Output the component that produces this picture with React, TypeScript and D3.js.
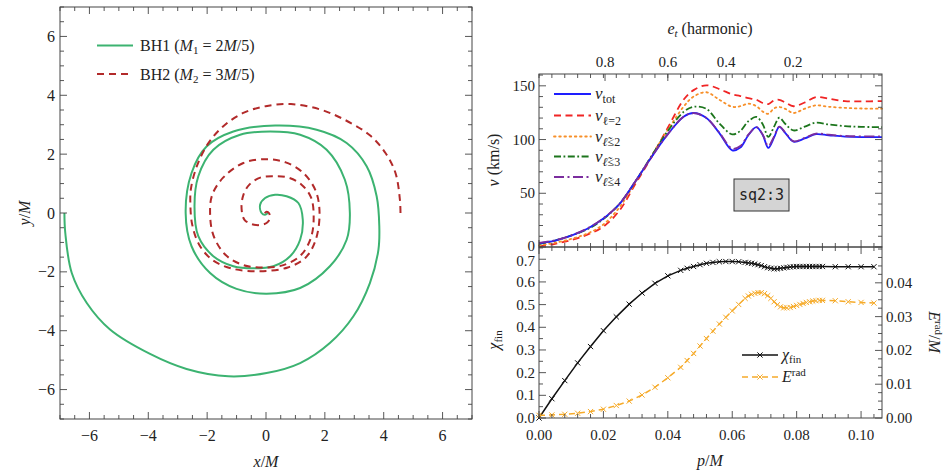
import React from "react";
import * as d3 from "d3";

// BH trajectories (units of M)
const bh1X = [-6.85, -6.82, -6.6, -6.09, -5.3, -3.94, -2.7, -1.28, 0.02, 1.16, 2.17, 2.97, 3.53, 3.82, 3.85, 3.76, 3.42, 2.74, 1.72, 0.31, -1.11, -2.02, -2.53, -2.73, -2.53, -1.9, -1.0, 0.02, 1.16, 2.17, 2.74, 2.85, 2.68, 2.06, 1.16, 0.14, -0.88, -1.79, -2.3, -2.43, -2.3, -1.79, -1.11, -0.43, 0.25, 0.82, 1.16, 1.25, 1.1, 0.7, 0.31, -0.03, -0.2, -0.15, -0.03, 0.08];
const bh1Y = [0, -0.68, -2.04, -3.06, -3.96, -4.79, -5.3, -5.55, -5.44, -5.1, -4.42, -3.51, -2.38, -1.25, -0.45, 0.57, 1.59, 2.38, 2.83, 2.97, 2.77, 2.26, 1.36, 0, -1.13, -2.04, -2.58, -2.74, -2.55, -1.81, -0.91, 0, 1.13, 2.15, 2.66, 2.77, 2.66, 2.15, 1.25, 0.23, -0.79, -1.47, -1.81, -1.88, -1.81, -1.47, -0.91, -0.23, 0.34, 0.57, 0.62, 0.51, 0.28, 0, -0.06, 0.02];
const bh2X = [4.57, 4.55, 4.4, 4.06, 3.53, 2.63, 1.8, 0.85, -0.01, -0.77, -1.45, -1.98, -2.35, -2.55, -2.57, -2.51, -2.28, -1.83, -1.15, -0.21, 0.74, 1.35, 1.69, 1.82, 1.69, 1.27, 0.67, -0.01, -0.77, -1.45, -1.83, -1.9, -1.79, -1.37, -0.77, -0.09, 0.59, 1.19, 1.53, 1.62, 1.53, 1.19, 0.74, 0.29, -0.17, -0.55, -0.77, -0.83, -0.73, -0.47, -0.21, 0.02, 0.13, 0.1, 0.02, -0.05];
const bh2Y = [0, 0.45, 1.36, 2.04, 2.64, 3.19, 3.53, 3.7, 3.63, 3.4, 2.95, 2.34, 1.59, 0.83, 0.3, -0.38, -1.06, -1.59, -1.89, -1.98, -1.85, -1.51, -0.91, 0, 0.75, 1.36, 1.72, 1.83, 1.7, 1.21, 0.61, 0, -0.75, -1.43, -1.77, -1.85, -1.77, -1.43, -0.83, -0.15, 0.53, 0.98, 1.21, 1.25, 1.21, 0.98, 0.61, 0.15, -0.23, -0.38, -0.41, -0.34, -0.19, 0, 0.04, -0.01];

// kick velocity vs p/M (km/s)
const pV = [0, 0.005, 0.01, 0.015, 0.02, 0.025, 0.03, 0.035, 0.04, 0.045, 0.048, 0.052, 0.056, 0.06, 0.0625, 0.065, 0.0675, 0.0695, 0.0712, 0.073, 0.0746, 0.0765, 0.079, 0.0825, 0.086, 0.09, 0.095, 0.1, 0.1065];
const vTot = [3.5, 6, 10.5, 17, 26.5, 40, 61.5, 84, 105, 121.5, 124.7, 120, 106, 90, 92.5, 104, 111.5, 104, 92.3, 102, 111.7, 106, 98, 101, 105, 104, 102.8, 102.3, 102.3];
const vL2 = [0.5, 3, 6.5, 11.5, 19, 34, 59, 84, 111, 137.5, 146, 150.5, 147, 142, 140.5, 138.5, 137, 134, 133, 136.5, 137, 134.5, 131, 134.5, 139.5, 138, 135.7, 135.5, 135.8];
const vLt2 = [1.5, 4, 7.5, 12.5, 21, 37, 60.5, 85, 109, 131, 140, 144, 137, 130.5, 131, 133.4, 131, 126, 124, 129, 130.3, 128.5, 124.7, 128.7, 131.8, 130.5, 129.5, 128.9, 128.7];
const vLt3 = [3, 6, 10.7, 16.5, 26, 40.2, 61.3, 85, 108, 126, 130.5, 128.5, 115, 104.8, 108, 117, 121, 114, 102.5, 112, 120.3, 114.5, 108.5, 112, 115.7, 114, 112.5, 111.8, 111.6];
const vLt4 = [3.8, 6.3, 10.8, 17.3, 26.8, 40.2, 61.5, 84, 105, 121.5, 124.5, 120, 106.5, 91.5, 94, 104.5, 111.5, 104.5, 94, 103, 112, 106.5, 98.5, 101.5, 105.5, 104.5, 103.3, 103, 103];

// final spin and radiated energy vs p/M
const pFit = [0, 0.004, 0.008, 0.012, 0.016, 0.02, 0.024, 0.028, 0.032, 0.036, 0.04, 0.044, 0.046, 0.048, 0.05, 0.052, 0.054, 0.056, 0.058, 0.06, 0.062, 0.064, 0.065, 0.066, 0.067, 0.068, 0.069, 0.07, 0.071, 0.072, 0.073, 0.074, 0.075, 0.076, 0.077, 0.078, 0.079, 0.08, 0.081, 0.082, 0.083, 0.084, 0.085, 0.086, 0.087, 0.088, 0.092, 0.096, 0.1, 0.104];
const chiFin = [0, 0.085, 0.165, 0.243, 0.315, 0.385, 0.446, 0.502, 0.551, 0.594, 0.627, 0.651, 0.66, 0.668, 0.676, 0.682, 0.686, 0.689, 0.69, 0.69, 0.689, 0.686, 0.684, 0.682, 0.679, 0.676, 0.672, 0.667, 0.663, 0.66, 0.658, 0.658, 0.66, 0.662, 0.664, 0.666, 0.667, 0.668, 0.668, 0.668, 0.668, 0.668, 0.668, 0.668, 0.668, 0.668, 0.667, 0.667, 0.667, 0.667];
const eRad = [0.0008, 0.0009, 0.0011, 0.0014, 0.0019, 0.0026, 0.0037, 0.005, 0.0068, 0.0091, 0.0119, 0.015, 0.017, 0.0191, 0.0213, 0.0235, 0.0257, 0.0278, 0.0298, 0.0317, 0.0336, 0.0354, 0.0361, 0.0366, 0.0369, 0.0371, 0.0371, 0.0368, 0.0362, 0.0354, 0.0344, 0.0335, 0.0329, 0.0326, 0.0326, 0.0327, 0.033, 0.0333, 0.0336, 0.0339, 0.0342, 0.0344, 0.0346, 0.0347, 0.0348, 0.0348, 0.0347, 0.0344, 0.0342, 0.034];

// top axis: eccentricity ticks and where they sit in p/M
const etLabels = ["0.8", "0.6", "0.4", "0.2"];
const etTickP = [0.0205, 0.04, 0.0581, 0.0789];
const eTicks = [0, 0.01, 0.02, 0.03, 0.04];

const serif = "'Liberation Serif', 'Times New Roman', Tinos, 'DejaVu Serif', 'Noto Serif', Times, serif";
const axisCol = "#444";

type TickProps = { vals: number[]; pos: (v: number) => number; at: number; len: number; dir: "up" | "down" | "left" | "right" };
const Ticks = ({ vals, pos, at, len, dir }: TickProps) => (
  <g stroke={axisCol} strokeWidth={0.9}>
    {vals.map((v, i) => {
      const c = pos(v);
      if (dir === "up") return <line key={i} x1={c} x2={c} y1={at} y2={at - len} />;
      if (dir === "down") return <line key={i} x1={c} x2={c} y1={at} y2={at + len} />;
      if (dir === "right") return <line key={i} y1={c} y2={c} x1={at} x2={at + len} />;
      return <line key={i} y1={c} y2={c} x1={at} x2={at - len} />;
    })}
  </g>
);

const minorOf = (all: number[], major: number[]) => all.filter((v) => !major.some((m) => Math.abs(m - v) < 1e-9));

const XMark = ({ x, y, color }: { x: number; y: number; color: string }) => (
  <path d={`M${x - 2.6},${y - 2.6}L${x + 2.6},${y + 2.6}M${x - 2.6},${y + 2.6}L${x + 2.6},${y - 2.6}`} stroke={color} strokeWidth={1} fill="none" />
);

const App = () => {
  // ---- left panel
  const xs = d3.scaleLinear().domain([-7, 7]).range([60, 472]);
  const ys = d3.scaleLinear().domain([-7, 7]).range([419, 7]);
  const lMaj = xs.ticks(7);
  const lMin = minorOf(xs.ticks(28), lMaj);
  const spiral = d3
    .line<[number, number]>()
    .x((d) => xs(d[0]))
    .y((d) => ys(d[1]))
    .curve(d3.curveCatmullRom.alpha(0.5));
  const bh1 = bh1X.map((x, i) => [x, bh1Y[i]] as [number, number]);
  const bh2 = bh2X.map((x, i) => [x, bh2Y[i]] as [number, number]);
  const fmt0 = d3.format("d");

  // ---- right panels
  const px = d3.scaleLinear().domain([0, 0.1065]).range([539, 882]);
  const vy = d3.scaleLinear().domain([0, 161]).range([247, 74]);
  const cy = d3.scaleLinear().domain([0, 0.754]).range([418, 247]);
  const ey = d3.scaleLinear().domain([0, 0.0506]).range([418, 247]);
  const pMaj = px.ticks(5);
  const pMin = minorOf(d3.range(0, 0.1066, 0.004), pMaj);
  const vMaj = vy.ticks(4);
  const vMin = minorOf(vy.ticks(16), vMaj);
  const cMaj = cy.ticks(7);
  const cMin = minorOf(cy.ticks(15), cMaj);
  const eMin = minorOf(d3.range(0, 0.0506, 0.0025), eTicks);

  const vLine = d3
    .line<number>()
    .x((_, i) => px(pV[i]))
    .y((d) => vy(d))
    .curve(d3.curveCatmullRom.alpha(0.5));
  const chiLine = d3
    .line<number>()
    .x((_, i) => px(pFit[i]))
    .y((d) => cy(d));
  const eLine = d3
    .line<number>()
    .x((_, i) => px(pFit[i]))
    .y((d) => ey(d));

  const series = [
    { v: vL2, color: "#f02525", dash: "7,4.5", cap: "butt" },
    { v: vLt2, color: "#f7902a", dash: "1.6,3.6", cap: "round" },
    { v: vLt3, color: "#1c751c", dash: "7,2.5,1.8,2.5", cap: "butt" },
    { v: vTot, color: "#1e1eff", dash: "", cap: "butt" },
    { v: vLt4, color: "#7b2d9e", dash: "10,3.5,2,3.5", cap: "butt" },
  ];
  const legendRows = [
    { color: "#1e1eff", dash: "", sub: "tot", tilde: false },
    { color: "#f02525", dash: "7,4.5", sub: "ℓ=2", tilde: false },
    { color: "#f7902a", dash: "1.6,3.6", sub: "≤2", tilde: true },
    { color: "#1c751c", dash: "7,2.5,1.8,2.5", sub: "≤3", tilde: true },
    { color: "#7b2d9e", dash: "10,3.5,2,3.5", sub: "≤4", tilde: true },
  ];
  const legY = [94, 115.5, 136.5, 156.5, 177];
  const orange = "#f6ab2a";

  return (
    <svg width={946} height={472} style={{ position: "absolute", left: 0, top: 0, background: "#fff", fontFamily: serif }}>
      {/* ===== left panel ===== */}
      <path d={spiral(bh1) || ""} fill="none" stroke="#3cb371" strokeWidth={2} />
      <path d={spiral(bh2) || ""} fill="none" stroke="#b22a2a" strokeWidth={2} strokeDasharray="7,5" />
      <rect x={60} y={7} width={412} height={412} fill="none" stroke={axisCol} strokeWidth={1} />
      <Ticks vals={lMaj} pos={xs} at={419} len={7} dir="up" />
      <Ticks vals={lMin} pos={xs} at={419} len={4} dir="up" />
      <Ticks vals={lMaj} pos={xs} at={7} len={7} dir="down" />
      <Ticks vals={lMin} pos={xs} at={7} len={4} dir="down" />
      <Ticks vals={lMaj} pos={ys} at={60} len={7} dir="right" />
      <Ticks vals={lMin} pos={ys} at={60} len={4} dir="right" />
      <Ticks vals={lMaj} pos={ys} at={472} len={7} dir="left" />
      <Ticks vals={lMin} pos={ys} at={472} len={4} dir="left" />
      <g fontSize={16} fill="#222">
        {lMaj.map((t) => (
          <text key={"lx" + t} x={xs(t)} y={441} textAnchor="middle">{fmt0(t)}</text>
        ))}
        {lMaj.map((t) => (
          <text key={"ly" + t} x={55} y={ys(t)} textAnchor="end" dominantBaseline="central">{fmt0(t)}</text>
        ))}
        <text x={266} y={467} textAnchor="middle"><tspan fontStyle="italic">x</tspan>/<tspan fontStyle="italic">M</tspan></text>
        <text transform="translate(30,213) rotate(-90)" textAnchor="middle"><tspan fontStyle="italic">y</tspan>/<tspan fontStyle="italic">M</tspan></text>
      </g>
      <g fontSize={16} fill="#222">
        <line x1={97} x2={133} y1={45.5} y2={45.5} stroke="#3cb371" strokeWidth={2} />
        <text x={140} y={51}>
          BH1 (<tspan fontStyle="italic">M</tspan><tspan fontSize={11} dy={3}>1</tspan><tspan dy={-3}> = 2</tspan><tspan fontStyle="italic">M</tspan>/5)
        </text>
        <line x1={97} x2={133} y1={74} y2={74} stroke="#b22a2a" strokeWidth={2} strokeDasharray="7,5" />
        <text x={140} y={79.5}>
          BH2 (<tspan fontStyle="italic">M</tspan><tspan fontSize={11} dy={3}>2</tspan><tspan dy={-3}> = 3</tspan><tspan fontStyle="italic">M</tspan>/5)
        </text>
      </g>

      {/* ===== top right panel ===== */}
      {series.map((s, i) => (
        <path key={i} d={vLine(s.v) || ""} fill="none" stroke={s.color} strokeWidth={1.8} strokeDasharray={s.dash} strokeLinecap={s.cap as any} />
      ))}
      <rect x={734} y={179} width={55} height={32} fill="#d4d4d4" stroke="#333" strokeWidth={1} />
      <text x={761.5} y={195} textAnchor="middle" dominantBaseline="central" style={{ fontFamily: "'DejaVu Sans Mono', 'Liberation Mono', monospace" }} fontSize={15} fill="#222">sq2:3</text>
      {legendRows.map((r, i) => (
        <g key={i}>
          <line x1={554} x2={591} y1={legY[i]} y2={legY[i]} stroke={r.color} strokeWidth={1.8} strokeDasharray={r.dash} strokeLinecap={i === 2 ? "round" : "butt"} />
          <text x={595} y={legY[i] + 5} fontSize={17} fill="#222">
            <tspan fontStyle="italic">v</tspan>
            {r.tilde ? (
              <tspan fontSize={12} dy={4} fontStyle="italic">ℓ̃<tspan fontStyle="normal">{r.sub}</tspan></tspan>
            ) : (
              <tspan fontSize={12} dy={4}>{r.sub}</tspan>
            )}
          </text>
        </g>
      ))}
      <rect x={539} y={74} width={343} height={173} fill="none" stroke={axisCol} strokeWidth={1} />
      <Ticks vals={pMaj} pos={px} at={247} len={7} dir="up" />
      <Ticks vals={pMin} pos={px} at={247} len={4} dir="up" />
      <Ticks vals={pMin} pos={px} at={74} len={4} dir="down" />
      <Ticks vals={pMaj} pos={px} at={74} len={4} dir="down" />
      <Ticks vals={etTickP} pos={px} at={74} len={7} dir="down" />
      <Ticks vals={vMaj} pos={vy} at={539} len={7} dir="right" />
      <Ticks vals={vMin} pos={vy} at={539} len={4} dir="right" />
      <Ticks vals={vMaj} pos={vy} at={882} len={7} dir="left" />
      <Ticks vals={vMin} pos={vy} at={882} len={4} dir="left" />
      <g fontSize={15} fill="#222">
        {vMaj.map((t) => (
          <text key={"v" + t} x={535} y={t === 0 ? vy(t) - 1.5 : vy(t)} textAnchor="end" dominantBaseline="central">{t}</text>
        ))}
        {etTickP.map((p, i) => (
          <text key={"et" + i} x={px(p)} y={67} textAnchor="middle">{etLabels[i]}</text>
        ))}
        <text x={710} y={34} textAnchor="middle" fontSize={16}>
          <tspan fontStyle="italic">e</tspan><tspan fontSize={11} dy={3} fontStyle="italic">t</tspan><tspan dy={-3}> (harmonic)</tspan>
        </text>
        <text transform="translate(499,160) rotate(-90)" textAnchor="middle" fontSize={16}>
          <tspan fontStyle="italic">v</tspan> (km/s)
        </text>
      </g>

      {/* ===== bottom right panel ===== */}
      <path d={chiLine(chiFin) || ""} fill="none" stroke="#111" strokeWidth={1.5} />
      {chiFin.map((c, i) => (
        <XMark key={"c" + i} x={px(pFit[i])} y={cy(c)} color="#111" />
      ))}
      <path d={eLine(eRad) || ""} fill="none" stroke={orange} strokeWidth={1.5} strokeDasharray="6,4" />
      {eRad.map((e, i) => (
        <XMark key={"e" + i} x={px(pFit[i])} y={ey(e)} color={orange} />
      ))}
      <rect x={539} y={247} width={343} height={171} fill="none" stroke={axisCol} strokeWidth={1} />
      <Ticks vals={pMaj} pos={px} at={418} len={7} dir="up" />
      <Ticks vals={pMin} pos={px} at={418} len={4} dir="up" />
      <Ticks vals={pMaj} pos={px} at={247} len={7} dir="down" />
      <Ticks vals={pMin} pos={px} at={247} len={4} dir="down" />
      <Ticks vals={cMaj} pos={cy} at={539} len={7} dir="right" />
      <Ticks vals={cMin} pos={cy} at={539} len={4} dir="right" />
      <Ticks vals={eTicks} pos={ey} at={882} len={7} dir="left" />
      <Ticks vals={eMin} pos={ey} at={882} len={4} dir="left" />
      <g fontSize={15} fill="#222">
        {cMaj.map((t) => (
          <text key={"c" + t} x={535} y={cy(t) + (t > 0.65 ? 1.5 : 0)} textAnchor="end" dominantBaseline="central">{d3.format(".1f")(t)}</text>
        ))}
        {eTicks.map((t) => (
          <text key={"e" + t} x={886} y={ey(t)} dominantBaseline="central">{d3.format(".2f")(t)}</text>
        ))}
        {pMaj.map((t) => (
          <text key={"p" + t} x={px(t)} y={440} textAnchor="middle">{d3.format(".2f")(t)}</text>
        ))}
        <text x={710} y={466} textAnchor="middle" fontSize={16}><tspan fontStyle="italic">p</tspan>/<tspan fontStyle="italic">M</tspan></text>
        <text transform="translate(499,340) rotate(-90)" textAnchor="middle" fontSize={16}>
          <tspan fontStyle="italic">χ</tspan><tspan fontSize={11} dy={3}>fin</tspan>
        </text>
        <text transform="translate(929,332) rotate(90)" textAnchor="middle" fontSize={16}>
          <tspan fontStyle="italic">E</tspan><tspan fontSize={11} dy={-6}>rad</tspan><tspan dy={6}>/</tspan><tspan fontStyle="italic">M</tspan>
        </text>
      </g>
      <g fontSize={16} fill="#222">
        <line x1={742} x2={778} y1={355} y2={355} stroke="#111" strokeWidth={1.5} />
        <XMark x={760} y={355} color="#111" />
        <text x={782} y={360}><tspan fontStyle="italic">χ</tspan><tspan fontSize={11} dy={3}>fin</tspan></text>
        <line x1={742} x2={778} y1={377} y2={377} stroke={orange} strokeWidth={1.5} strokeDasharray="6,4" />
        <XMark x={760} y={377} color={orange} />
        <text x={782} y={382}><tspan fontStyle="italic">E</tspan><tspan fontSize={11} dy={-6}>rad</tspan></text>
      </g>
    </svg>
  );
};

export default App;
